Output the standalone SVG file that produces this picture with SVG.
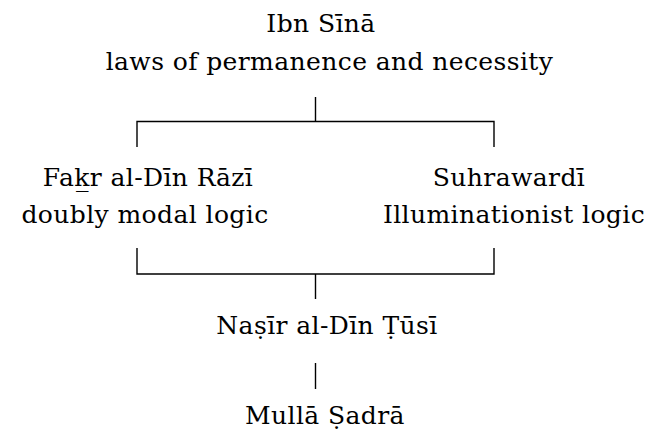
<svg xmlns="http://www.w3.org/2000/svg" width="659" height="432" viewBox="0 0 659 432">
<style>
text{font-family:"DejaVu Serif","Liberation Serif",serif;font-size:25px;letter-spacing:0.4px;fill:#000;text-anchor:middle}
.c{stroke:#000;stroke-width:1.4;fill:none}
</style>
<rect width="659" height="432" fill="#fff"/>
<g id="connectors">
<path class="c" d="M315.5 97V121.5M137 147V121.5H494V147"/>
<path class="c" d="M137 248V274H494V248M315.5 274V299"/>
<path class="c" d="M315.5 363V389"/>
</g>
<g id="ibn-sina"><text x="321" y="32">Ibn Sīnā</text><text x="329.5" y="70">laws of permanence and necessity</text></g>
<g id="razi"><text x="148" y="186">Fak̲r al-Dīn Rāzī</text><text x="145" y="223">doubly modal logic</text></g>
<g id="suhrawardi"><text x="509" y="186">Suhrawardī</text><text x="514" y="223">Illuminationist logic</text></g>
<g id="tusi"><text x="327" y="334">Naṣīr al-Dīn Ṭūsī</text></g>
<g id="sadra"><text x="325" y="424">Mullā Ṣadrā</text></g>
</svg>
